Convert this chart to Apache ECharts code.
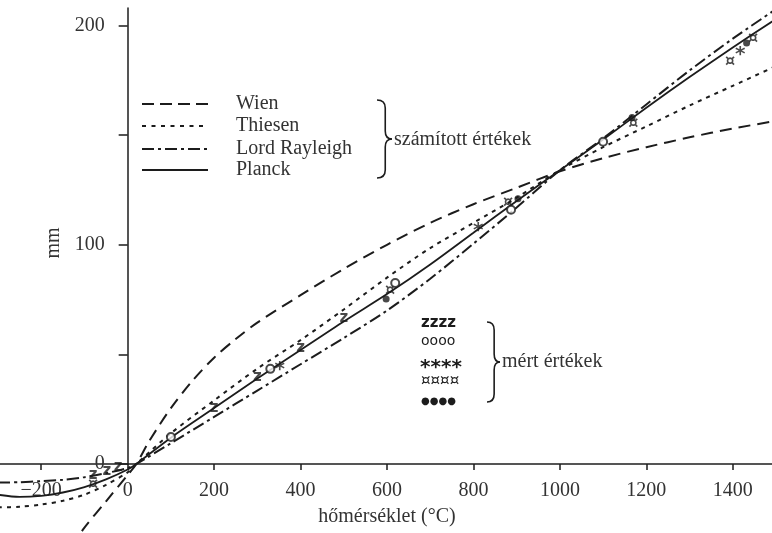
<!DOCTYPE html>
<html><head><meta charset="utf-8">
<script src="https://cdn.jsdelivr.net/npm/echarts@6/dist/echarts.min.js"></script>
<style>html,body{margin:0;padding:0;background:#fff}#c{width:772px;height:533px}</style>
</head><body><div id="c"></div>
<script>
// axis ticks and labels
const xTickValues = [-200, 0, 200, 400, 600, 800, 1000, 1200, 1400];
const yTickValues = [0, 50, 100, 150, 200];
const yLabelValues = [0, 100, 200];
// calculated curves
const curveT = [-300,-250,-200,-150,-100,-50,0,20,100,200,300,400,500,600,700,800,900,1000,1100,1200,1300,1400,1500];
const planck = [-14,-15,-14.5,-13,-10.5,-7,-2.5,0,12,25.5,39,52,65,77.5,91,105.5,120,134,148,162.5,176.5,190,203];
const thiesen = [-19.8,-19.5,-18.5,-16.8,-14,-9.5,-3.8,0,14,29,43.5,56.5,70.5,85,98.5,110,121.5,134,144.5,154,163.5,172.5,181.5];
const rayleigh = [-8.5,-8.3,-7.8,-7.2,-6,-4.2,-1.8,0,9.5,21.5,33.5,45.5,57.5,70,84.5,100.5,117,134,148.5,164,179.5,194,207.5];
const wienT = [-130,-100,-50,0,20,50,100,150,200,250,300,400,500,600,700,800,900,1000,1100,1200,1300,1400,1500];
const wien = [-38,-29,-17,-5,0,10.5,25.5,38,48.5,57,64.5,77,89,100,110,118.5,126,133.5,139.5,144.5,149,153,156.5];
// measured values
const zT = [-80,-48,-22,200,300,400,500];
const zV = [-5.5,-3.6,-1.8,25,39,52.5,66];
const oT = [100,330,619,887,1100];
const oV = [12.3,43.4,82.6,116,147];
const starT = [352,811,1417];
const starV = [45,108,188.6];
const sqT = [-80,607,880,1170,1394,1447];
const sqV = [-9.5,79,119,155,183.6,194];
const dotT = [598,903,1167,1432];
const dotV = [75.3,121,158,192];

const pairs = (xs, ys) => xs.map((x, i) => [x, ys[i]]);
const INK = '#1c1c1c';
const TXT = '#333';
const SERIF = '"Liberation Serif", "DejaVu Serif", serif';
const SANS = '"DejaVu Sans", sans-serif';
const FS = 20;
const X_MIN = -300, X_MAX = 1500, GRID_L = -2, GRID_R = -4, W = 772;
// pixel distance of x = 0 from the grid's left edge (to put the y axis there)
const yAxisShift = (0 - X_MIN) / (X_MAX - X_MIN) * (W - GRID_L - GRID_R);

function lineSeries(name, xs, ys, type, width) {
  return {
    name, type: 'line', data: pairs(xs, ys), smooth: 0.3, showSymbol: false, clip: false,
    lineStyle: { color: INK, width: width, type: type }, z: 3
  };
}
function textMarks(name, xs, ys, ch, size, dy) {
  return {
    name, type: 'scatter', data: pairs(xs, ys), symbol: 'circle', symbolSize: 1, clip: false,
    itemStyle: { color: 'rgba(0,0,0,0)' },
    label: { show: true, position: 'inside', formatter: ch, fontFamily: SANS, fontSize: size,
      fontWeight: 'bold', color: INK, offset: [0, dy || 0] }, z: 4
  };
}
// curly brace built from quadratic curves; x = left edge, top/bottom, w = width of the tip
function brace(x, top, bottom, w) {
  const mid = (top + bottom) / 2, r = 8, s = { stroke: INK, lineWidth: 1.6, fill: null };
  const xm = x + w * 0.55, xt = x + w;
  return [
    { type: 'bezierCurve', shape: { x1: x, y1: top, cpx1: xm, cpy1: top, x2: xm, y2: top + r }, style: s },
    { type: 'line', shape: { x1: xm, y1: top + r, x2: xm, y2: mid - r }, style: s },
    { type: 'bezierCurve', shape: { x1: xm, y1: mid - r, cpx1: xm, cpy1: mid, x2: xt, y2: mid }, style: s },
    { type: 'bezierCurve', shape: { x1: xt, y1: mid, cpx1: xm, cpy1: mid, x2: xm, y2: mid + r }, style: s },
    { type: 'line', shape: { x1: xm, y1: mid + r, x2: xm, y2: bottom - r }, style: s },
    { type: 'bezierCurve', shape: { x1: xm, y1: bottom - r, cpx1: xm, cpy1: bottom, x2: x, y2: bottom }, style: s }
  ];
}

const chart = echarts.init(document.getElementById('c'));
chart.setOption({
  animation: false,
  backgroundColor: '#fff',
  grid: { left: GRID_L, right: GRID_R, top: 8, bottom: 69, outerBoundsMode: 'none', containLabel: false },
  xAxis: {
    type: 'value', min: X_MIN, max: X_MAX,
    name: 'hőmérséklet (°C)', nameLocation: 'middle', nameGap: 43,
    nameTextStyle: { fontFamily: SERIF, fontSize: FS, color: TXT },
    axisLine: { lineStyle: { color: INK, width: 1.5 } },
    axisTick: { show: true, length: 6, lineStyle: { color: INK, width: 1.5 }, customValues: xTickValues },
    axisLabel: { customValues: xTickValues, fontFamily: SERIF, fontSize: FS, color: TXT, margin: 17,
      formatter: v => v < 0 ? '\u2212' + Math.abs(v) : String(v) },
    splitLine: { show: false }
  },
  yAxis: {
    type: 'value', min: 0, max: 208,
    offset: -yAxisShift,
    name: 'mm', nameLocation: 'middle', nameGap: 51, nameRotate: 90,
    nameTextStyle: { fontFamily: SERIF, fontSize: FS, color: TXT, padding: [0, 14, 0, 0] },
    axisLine: { show: true, onZero: false, lineStyle: { color: INK, width: 1.5 } },
    axisTick: { show: true, length: 9, lineStyle: { color: INK, width: 1.5 }, customValues: yTickValues },
    axisLabel: { customValues: yLabelValues, fontFamily: SERIF, fontSize: FS, color: TXT, margin: 23 },
    splitLine: { show: false }
  },
  series: [
    lineSeries('Wien', wienT, wien, [12, 7], 2),
    lineSeries('Thiesen', curveT, thiesen, [4, 5], 2),
    lineSeries('Lord Rayleigh', curveT, rayleigh, [12, 4, 3, 4], 2),
    lineSeries('Planck', curveT, planck, 'solid', 1.8),
    textMarks('z', zT, zV, 'z', 15, -1),
    {
      name: 'o', type: 'scatter', data: pairs(oT, oV), symbol: 'emptyCircle', symbolSize: 8, clip: false,
      itemStyle: { color: INK, borderColor: INK, borderWidth: 1.5 }, z: 5
    },
    textMarks('star', starT, starV, '*', 20, 4),
    textMarks('sq', sqT, sqV, '\u00a4', 16, 0),
    {
      name: 'dot', type: 'scatter', data: pairs(dotT, dotV), symbol: 'circle', symbolSize: 7, clip: false,
      itemStyle: { color: INK }, z: 5
    }
  ],
  graphic: [
    { type: 'line', shape: { x1: 142, y1: 104, x2: 208, y2: 104 }, style: { stroke: INK, lineWidth: 2, lineDash: [12, 6] } },
    { type: 'line', shape: { x1: 142, y1: 126, x2: 208, y2: 126 }, style: { stroke: INK, lineWidth: 2, lineDash: [4, 5.5] } },
    { type: 'line', shape: { x1: 142, y1: 149, x2: 208, y2: 149 }, style: { stroke: INK, lineWidth: 2, lineDash: [12, 4, 3, 4] } },
    { type: 'line', shape: { x1: 142, y1: 170, x2: 208, y2: 170 }, style: { stroke: INK, lineWidth: 2 } },
    { type: 'text', x: 236, y: 104, style: { text: 'Wien', font: FS + 'px ' + SERIF, fill: TXT, verticalAlign: 'middle' } },
    { type: 'text', x: 236, y: 126, style: { text: 'Thiesen', font: FS + 'px ' + SERIF, fill: TXT, verticalAlign: 'middle' } },
    { type: 'text', x: 236, y: 149, style: { text: 'Lord Rayleigh', font: FS + 'px ' + SERIF, fill: TXT, verticalAlign: 'middle' } },
    { type: 'text', x: 236, y: 170, style: { text: 'Planck', font: FS + 'px ' + SERIF, fill: TXT, verticalAlign: 'middle' } },
    ...brace(377, 100, 178, 15),
    { type: 'text', x: 394, y: 140, style: { text: 'számított értékek', font: FS + 'px ' + SERIF, fill: TXT, verticalAlign: 'middle' } },
    { type: 'text', x: 421, y: 323, style: { text: 'zzzz', font: 'bold 15px ' + SANS, fill: INK, verticalAlign: 'middle' } },
    { type: 'text', x: 421, y: 341, style: { text: 'oooo', font: '14px ' + SANS, fill: INK, verticalAlign: 'middle' } },
    { type: 'text', x: 420, y: 368, style: { text: '****', font: 'bold 20px ' + SANS, fill: INK, verticalAlign: 'middle' } },
    { type: 'text', x: 421, y: 381, style: { text: '\u00a4\u00a4\u00a4\u00a4', font: '15px ' + SANS, fill: INK, verticalAlign: 'middle' } },
    { type: 'text', x: 421, y: 401, style: { text: '\u25cf\u25cf\u25cf\u25cf', font: '10px ' + SANS, fill: INK, verticalAlign: 'middle' } },
    ...brace(487, 322, 402, 13),
    { type: 'text', x: 502, y: 362, style: { text: 'mért értékek', font: FS + 'px ' + SERIF, fill: TXT, verticalAlign: 'middle' } }
  ]
});
</script>
</body></html>
